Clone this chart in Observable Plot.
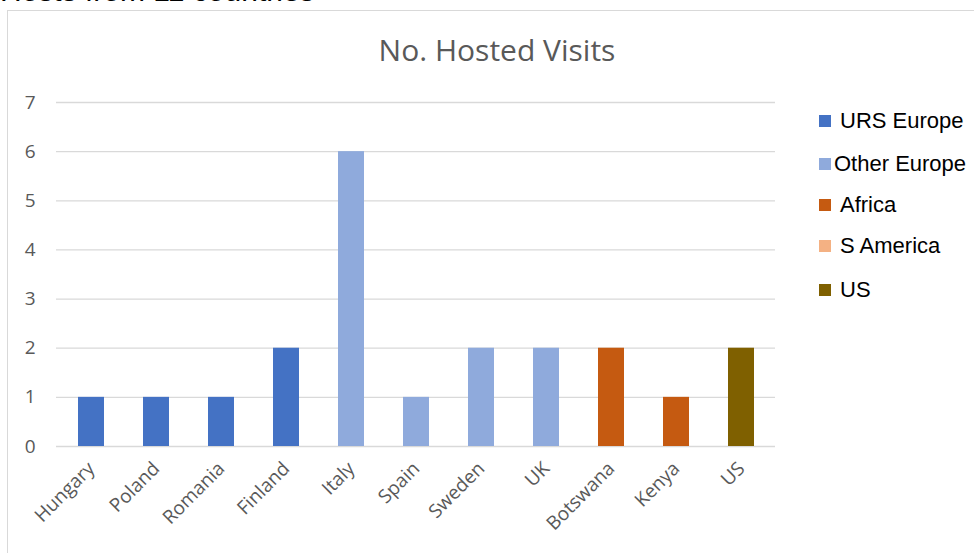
<!DOCTYPE html>
<html>
<head>
<meta charset="utf-8">
<script src="https://cdn.jsdelivr.net/npm/d3@7"></script>
<script src="https://cdn.jsdelivr.net/npm/@observablehq/plot@0.6"></script>
<style>
  html, body { margin: 0; padding: 0; background: #fff; overflow: hidden; }
  #page { position: relative; width: 974px; height: 553px; overflow: hidden; }
  #frame { position: absolute; left: 7px; top: 10px; width: 980px; height: 560px; border: 1px solid #d9d9d9; box-sizing: border-box; }
  #toptext { position: absolute; left: 0px; top: -26px; font-family: "Liberation Sans", Arial, sans-serif; font-size: 30px; color: #000; white-space: nowrap; }
  #title { position: absolute; left: 0; width: 994px; top: 29px; text-align: center; font-family: "Open Sans", sans-serif; font-size: 30px; color: #595959; }
  #chart { position: absolute; left: 0; top: 0; }
  #legend { position: absolute; left: 819px; top: 0; font-family: "Liberation Sans", Arial, sans-serif; font-size: 22px; color: #000; }
  .li { position: absolute; left: 0; white-space: nowrap; display: flex; align-items: center; height: 26px; }
  .sw { width: 12px; height: 12px; display: inline-block; margin-right: 9px; }
</style>
</head>
<body>
<div id="page">
  <div id="toptext">Hosts from 11 countries</div>
  <div id="frame"></div>
  <div id="chart"></div>
  <div id="title">No. Hosted Visits</div>
  <div id="legend"></div>
</div>
<script>
const countries = ["Hungary", "Poland", "Romania", "Finland", "Italy", "Spain", "Sweden", "UK", "Botswana", "Kenya", "US"];
const visits = [1, 1, 1, 2, 6, 1, 2, 2, 2, 1, 2];
const regionOf = ["URS Europe", "URS Europe", "URS Europe", "URS Europe", "Other Europe", "Other Europe", "Other Europe", "Other Europe", "Africa", "Africa", "US"];
const regionNames = ["URS Europe", "Other Europe", "Africa", "S America", "US"];
const regionColors = ["#4472C4", "#8FAADC", "#C55A11", "#F4B183", "#7F6000"];
const yTicks = [0, 1, 2, 3, 4, 5, 6, 7];

const data = countries.map((c, i) => ({country: c, value: visits[i], region: regionOf[i]}));

const chart = Plot.plot({
  width: 974,
  height: 553,
  marginLeft: 56,
  marginRight: 199,
  marginTop: 102,
  marginBottom: 107,
  style: {fontFamily: "'Open Sans', sans-serif", background: "transparent", overflow: "visible"},
  x: {domain: countries, paddingInner: 0.6, paddingOuter: 0.3, label: null},
  y: {domain: [0, 7], label: null},
  color: {domain: regionNames, range: regionColors},
  marks: [
    Plot.gridY(yTicks, {stroke: "#d9d9d9", strokeOpacity: 1, strokeWidth: 1.3}),
    Plot.barY(data, {x: "country", y: "value", fill: "region"}),
    Plot.axisY(yTicks, {tickSize: 0, tickPadding: 21, fontSize: 19, fill: "#595959", tickFormat: d => String(d), label: null}),
    Plot.axisX({tickSize: 0, tickPadding: 19, tickRotate: -45, fontSize: 19, fill: "#595959", label: null})
  ]
});
document.getElementById("chart").appendChild(chart);

const legendTops = [121, 164, 205, 246, 290];
const legend = document.getElementById("legend");
regionNames.forEach((name, i) => {
  const row = document.createElement("div");
  row.className = "li";
  row.style.top = (legendTops[i] - 13) + "px";
  const sw = document.createElement("span");
  sw.className = "sw";
  sw.style.background = regionColors[i];
  if (name === "Other Europe") sw.style.marginRight = "3px";
  const t = document.createElement("span");
  t.textContent = name;
  row.appendChild(sw);
  row.appendChild(t);
  legend.appendChild(row);
});
</script>
</body>
</html>
